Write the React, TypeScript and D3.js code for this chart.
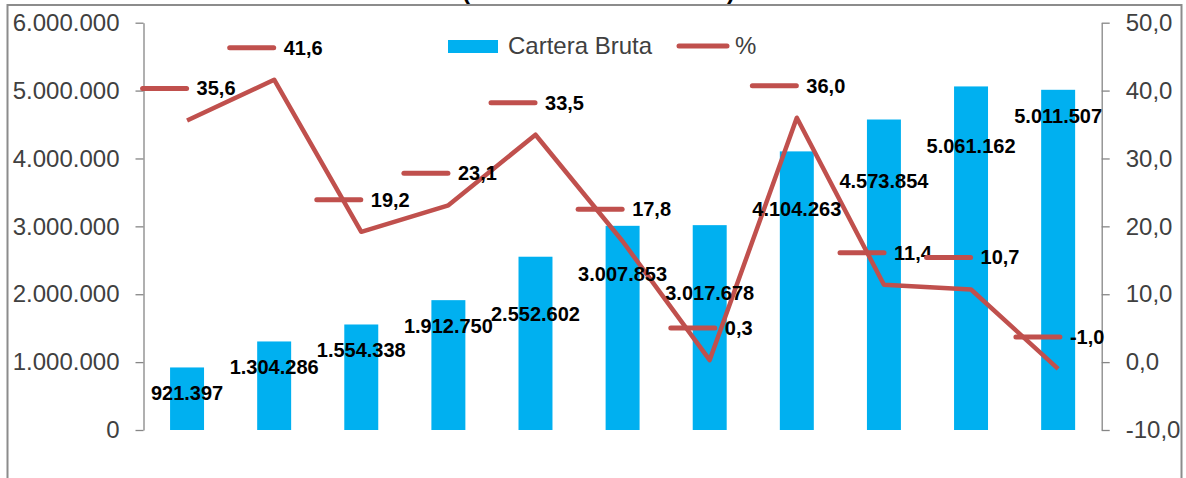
import { useEffect, useRef } from "react";
import * as d3 from "d3";

// datos (cartera bruta y variacion %)
const periods = ["P1", "P2", "P3", "P4", "P5", "P6", "P7", "P8", "P9", "P10", "P11"];
const carteraBruta = [921397, 1304286, 1554338, 1912750, 2552602, 3007853, 3017678, 4104263, 4573854, 5061162, 5011507];
const variacion = [35.6, 41.6, 19.2, 23.1, 33.5, 17.8, 0.3, 36.0, 11.4, 10.7, -1.0];
// where each bar label sits, in left-axis units (Excel moved them by hand)
const barLabelAt = [541000, 934000, 1180000, 1534000, 1711000, 2301000, 2021000, 3255000, 3662000, 4178000, 4621000];
const leftTicks = [0, 1000000, 2000000, 3000000, 4000000, 5000000, 6000000];
const rightTicks = [-10, 0, 10, 20, 30, 40, 50];
const legendBar = "Cartera Bruta";
const legendLine = "%";

const W = 1186;
const H = 478;
const FONT = "'Liberation Sans', Arial, sans-serif";
const BLUE = "#00B0F0";
const RED = "#C0504D";
const AXIS = "#868686";
const TEXT = "#404040";

const es = d3.formatLocale({
  decimal: ",",
  thousands: ".",
  grouping: [3],
  currency: ["", ""],
  minus: "-",
});
const fmtInt = es.format(",d");
const fmtPct = es.format(".1f");

export default function App() {
  const svgRef = useRef<SVGSVGElement>(null);

  useEffect(() => {
    const svg = d3.select(svgRef.current);
    svg.selectAll("*").remove();

    const left = 143.5;
    const right = 1101.7;
    const top = 22.7;
    const bottom = 430;

    const x = d3
      .scaleBand()
      .domain(periods)
      .range([left, right])
      .paddingInner(0.61)
      .paddingOuter(0.305);
    const cx = (i: number) => (x(periods[i]) as number) + x.bandwidth() / 2;

    const yL = d3.scaleLinear().domain([0, 6000000]).range([bottom, top]);
    const yR = d3.scaleLinear().domain([-10, 50]).range([bottom, top]);

    // marco del grafico
    svg
      .append("rect")
      .attr("x", 7.5)
      .attr("y", 5)
      .attr("width", 1174)
      .attr("height", 500)
      .attr("fill", "none")
      .attr("stroke", "#8c8c8c")
      .attr("stroke-width", 2);

    // restos del titulo (cortado arriba)
    svg
      .append("g")
      .attr("font-family", FONT)
      .attr("font-size", 24)
      .attr("font-weight", "bold")
      .attr("fill", "#000")
      .selectAll("text")
      .data([
        ["(", 462],
        [")", 727],
      ])
      .join("text")
      .attr("x", (d) => d[1] as number)
      .attr("y", -1)
      .text((d) => d[0] as string);

    // ejes
    const styleAxis = (g: d3.Selection<SVGGElement, unknown, null, undefined>) => {
      g.attr("font-family", FONT).attr("font-size", 24);
      g.select(".domain").attr("stroke", AXIS).attr("stroke-width", 1.3);
      g.selectAll(".tick line").attr("stroke", AXIS).attr("stroke-width", 1.3);
      g.selectAll(".tick text").attr("fill", TEXT);
    };

    svg
      .append("g")
      .attr("transform", `translate(${left},0)`)
      .call(
        d3
          .axisLeft(yL)
          .tickValues(leftTicks)
          .tickSize(8)
          .tickSizeOuter(0)
          .tickPadding(16)
          .tickFormat((d) => fmtInt(d as number))
      )
      .call(styleAxis);

    svg
      .append("g")
      .attr("transform", `translate(${right},0)`)
      .call(
        d3
          .axisRight(yR)
          .tickValues(rightTicks)
          .tickSize(8)
          .tickSizeOuter(0)
          .tickPadding(16)
          .tickFormat((d) => fmtPct(d as number))
      )
      .call(styleAxis);

    // barras
    svg
      .append("g")
      .selectAll("rect")
      .data(carteraBruta)
      .join("rect")
      .attr("x", (_, i) => x(periods[i]) as number)
      .attr("y", (d) => yL(d))
      .attr("width", x.bandwidth())
      .attr("height", (d) => yL(0) - yL(d))
      .attr("fill", BLUE);

    // linea %
    const line = d3
      .line<number>()
      .x((_, i) => cx(i))
      .y((d) => yR(d));

    svg
      .append("path")
      .datum(variacion)
      .attr("fill", "none")
      .attr("stroke", RED)
      .attr("stroke-width", 4.5)
      .attr("stroke-linejoin", "round")
      .attr("d", line);

    // etiquetas de barras
    svg
      .append("g")
      .attr("font-family", FONT)
      .attr("font-size", 20)
      .attr("font-weight", "bold")
      .attr("fill", "#000")
      .attr("text-anchor", "middle")
      .selectAll("text")
      .data(carteraBruta)
      .join("text")
      .attr("x", (_, i) => cx(i))
      .attr("y", (_, i) => yL(barLabelAt[i]))
      .attr("dy", "0.35em")
      .text((d) => fmtInt(d));

    // etiquetas de la linea con clave de leyenda
    const keyLen = 44;
    const gap = 10;
    const lbl = svg
      .append("g")
      .attr("font-family", FONT)
      .attr("font-size", 20)
      .attr("font-weight", "bold")
      .attr("fill", "#000");

    variacion.forEach((v, i) => {
      const py = yR(v) - 32;
      const t = lbl
        .append("text")
        .attr("y", py)
        .attr("dy", "0.35em")
        .text(fmtPct(v));
      const w = (t.node() as SVGTextElement).getComputedTextLength();
      const x0 = cx(i) - (keyLen + gap + w) / 2 + 2;
      t.attr("x", x0 + keyLen + gap);
      lbl
        .append("line")
        .attr("x1", x0)
        .attr("x2", x0 + keyLen)
        .attr("y1", py)
        .attr("y2", py)
        .attr("stroke", RED)
        .attr("stroke-width", 5)
        .attr("stroke-linecap", "round");
    });

    // leyenda
    const lg = svg.append("g").attr("font-family", FONT).attr("font-size", 24).attr("fill", TEXT);
    lg.append("rect").attr("x", 448).attr("y", 40).attr("width", 50).attr("height", 13).attr("fill", BLUE);
    lg.append("text").attr("x", 508).attr("y", 46).attr("dy", "0.35em").text(legendBar);
    lg.append("line")
      .attr("x1", 679)
      .attr("x2", 727)
      .attr("y1", 46)
      .attr("y2", 46)
      .attr("stroke", RED)
      .attr("stroke-width", 5)
      .attr("stroke-linecap", "round");
    lg.append("text").attr("x", 735).attr("y", 46).attr("dy", "0.35em").text(legendLine);
  }, []);

  return (
    <svg
      ref={svgRef}
      width={W}
      height={H}
      viewBox={`0 0 ${W} ${H}`}
      style={{ position: "absolute", left: 0, top: 0, background: "#fff" }}
    />
  );
}
